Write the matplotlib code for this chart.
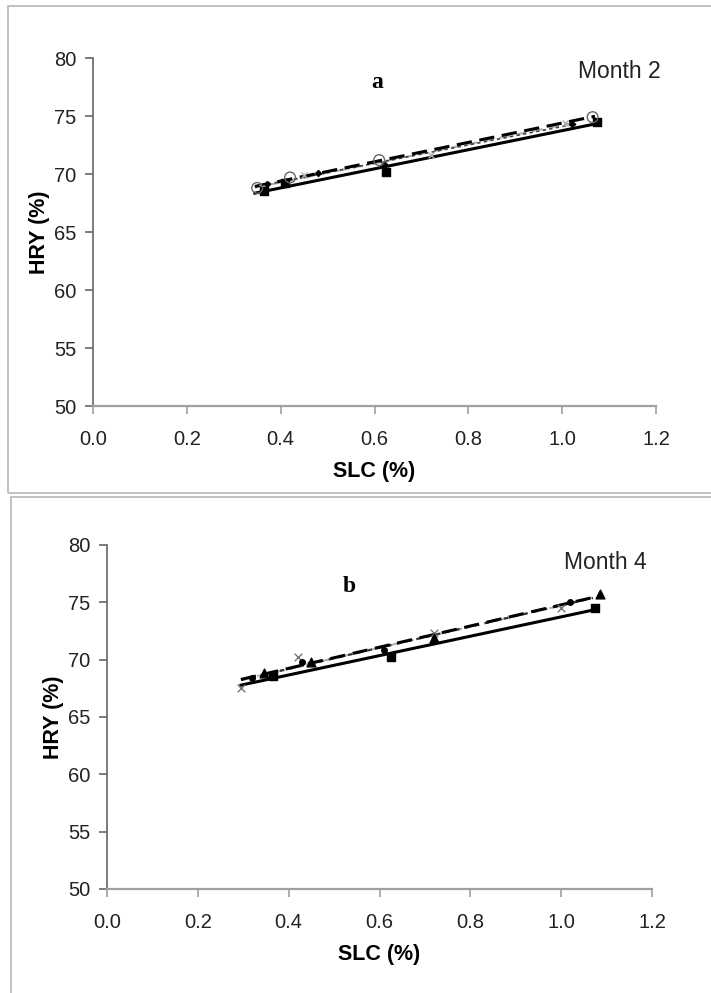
import numpy as np
import matplotlib
matplotlib.use("Agg")
import matplotlib.pyplot as plt
from matplotlib.patches import Rectangle

plt.rcParams['font.family'] = ['Liberation Sans', 'DejaVu Sans']

# ---- Data: Month 2 (panel a) ----
m2_sq_x = [0.365, 0.41, 0.625, 1.075]
m2_sq_y = [68.5, 69.2, 70.2, 74.5]
m2_ci_x = [0.35, 0.42, 0.61, 1.065]
m2_ci_y = [68.8, 69.7, 71.2, 74.9]
m2_di_x = [0.37, 0.48, 0.62, 1.02]
m2_di_y = [69.1, 70.1, 70.9, 74.3]
m2_gr_x = [0.36, 0.45, 0.72, 1.005]
m2_gr_y = [68.9, 69.9, 71.6, 74.4]

# ---- Data: Month 4 (panel b) ----
m4_sq_x = [0.365, 0.625, 1.075]
m4_sq_y = [68.6, 70.2, 74.5]
m4_tr_x = [0.345, 0.45, 0.72, 1.085]
m4_tr_y = [68.8, 69.8, 71.9, 75.7]
m4_x_x = [0.295, 0.42, 0.72, 1.0]
m4_x_y = [67.5, 70.2, 72.3, 74.5]
m4_ci_x = [0.32, 0.43, 0.61, 1.02]
m4_ci_y = [68.4, 69.8, 70.8, 75.0]

xticks = [0.0, 0.2, 0.4, 0.6, 0.8, 1.0, 1.2]
yticks = [50, 55, 60, 65, 70, 75, 80]

fig = plt.figure(figsize=(7.11, 9.93), dpi=100)

# panel frames
fig.patches.append(Rectangle((8/711, 1-493/993), 710/711, 487/993, transform=fig.transFigure,
                             fill=False, edgecolor='#b8b8b8', lw=1.2))
fig.patches.append(Rectangle((11/711, -0.01), 710/711, 1-497/993+0.01, transform=fig.transFigure,
                             fill=False, edgecolor='#b8b8b8', lw=1.2))

ax1 = fig.add_axes([93/711, 1-406/993, (656-93)/711, (406-58)/993])
ax2 = fig.add_axes([107/711, 1-889/993, (652-107)/711, (889-545)/993])


def fit_line(ax, xs, ys, x0, x1, **kw):
    k, b = np.polyfit(xs, ys, 1)
    xx = np.array([x0, x1])
    ax.plot(xx, k*xx + b, **kw)


def style(ax, ylabelpad):
    ax.set_xlim(0, 1.2)
    ax.set_ylim(50, 80)
    ax.set_xticks(xticks)
    ax.set_xticklabels([f"{t:.1f}" for t in xticks])
    ax.set_yticks(yticks)
    ax.set_yticklabels([str(t) for t in yticks])
    for s in ['top', 'right']:
        ax.spines[s].set_visible(False)
    ax.spines['left'].set_color('#666666')
    ax.spines['bottom'].set_color('#a0a0a0')
    ax.spines['left'].set_linewidth(1.2)
    ax.spines['bottom'].set_linewidth(1.6)
    ax.tick_params(axis='x', direction='out', length=6, width=1.2, color='#a0a0a0',
                   labelsize=14.5, labelcolor='#222222', pad=11)
    ax.tick_params(axis='y', direction='out', length=6, width=1.2, color='#666666',
                   labelsize=14.5, labelcolor='#222222', pad=6)
    ax.set_xlabel('SLC (%)', fontsize=15.5, fontweight='bold', labelpad=9)
    ax.set_ylabel('HRY (%)', fontsize=15.5, fontweight='bold', labelpad=ylabelpad)


# Panel a
a0, a1 = 0.345, 1.08
fit_line(ax1, m2_gr_x, m2_gr_y, a0, 1.02, color='#b0b0b0', lw=1.5, ls=(0, (5, 3)), zorder=2)
fit_line(ax1, m2_di_x, m2_di_y, a0, 1.03, color='#444444', lw=1.2, ls=(0, (2, 2)), zorder=2)
fit_line(ax1, m2_sq_x, m2_sq_y, a0, a1, color='black', lw=2.2, ls='-', zorder=3)
fit_line(ax1, m2_ci_x, m2_ci_y, a0, 1.07, color='black', lw=2.2, ls=(0, (5, 2.5)), zorder=3)
ax1.scatter(m2_gr_x, m2_gr_y, marker='x', s=18, color='#b0b0b0', lw=1, zorder=4)
ax1.scatter(m2_di_x, m2_di_y, marker='D', s=9, color='black', zorder=4)
ax1.scatter(m2_sq_x, m2_sq_y, marker='s', s=34, color='black', zorder=5)
ax1.scatter(m2_ci_x, m2_ci_y, marker='o', s=60, facecolors='none', edgecolors='#666666', lw=1, zorder=5)
style(ax1, 3)
ax1.text(0.505, 0.93, 'a', transform=ax1.transAxes, fontsize=17, fontweight='bold',
         family=['Liberation Serif', 'DejaVu Serif'], ha='center', va='center')
ax1.text(0.935, 0.96, 'Month 2', transform=ax1.transAxes, fontsize=16.5, color='#222222',
         ha='center', va='center')

# Panel b
b0, b1 = 0.295, 1.085
fit_line(ax2, m4_ci_x, m4_ci_y, b0, 1.03, color='#b0b0b0', lw=1.5, ls=(0, (5, 3)), zorder=2)
fit_line(ax2, m4_x_x, m4_x_y, b0, 1.07, color='#333333', lw=1.6, ls=(0, (2, 2.5)), zorder=2)
fit_line(ax2, m4_sq_x, m4_sq_y, b0, 1.075, color='black', lw=2.2, ls='-', zorder=3)
fit_line(ax2, m4_tr_x, m4_tr_y, b0, b1, color='black', lw=2.2, ls=(0, (5, 2.5)), zorder=3)
ax2.scatter(m4_x_x, m4_x_y, marker='x', s=30, color='#777777', lw=1, zorder=4)
ax2.scatter(m4_ci_x, m4_ci_y, marker='o', s=16, color='black', zorder=4)
ax2.scatter(m4_sq_x, m4_sq_y, marker='s', s=34, color='black', zorder=5)
ax2.scatter(m4_tr_x, m4_tr_y, marker='^', s=40, color='black', zorder=5)
style(ax2, 3)
ax2.text(0.445, 0.88, 'b', transform=ax2.transAxes, fontsize=17, fontweight='bold',
         family=['Liberation Serif', 'DejaVu Serif'], ha='center', va='center')
ax2.text(0.915, 0.95, 'Month 4', transform=ax2.transAxes, fontsize=16.5, color='#222222',
         ha='center', va='center')

fig.savefig('out.png', dpi=100)
